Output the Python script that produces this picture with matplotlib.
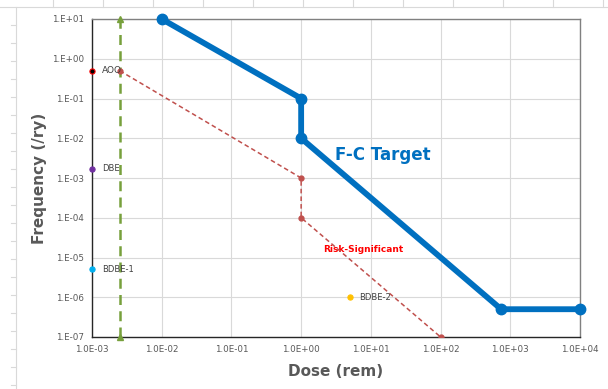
import matplotlib.pyplot as plt
from matplotlib.lines import Line2D
from matplotlib.ticker import FixedLocator, NullLocator

# F-C target curve
fc_dose = [1e-2, 1.0, 1.0, 740, 1e4]
fc_freq = [10, 0.1, 0.01, 5e-7, 5e-7]

# risk-significant curve
rs_dose = [2.5e-3, 1.0, 1.0, 100]
rs_freq = [0.5, 1e-3, 1e-4, 1e-7]

# vertical marker line
vline_dose = [2.5e-3, 2.5e-3]
vline_freq = [1e-7, 10]

# event categories
ev_names = ["AOO", "DBE", "BDBE-1", "BDBE-2"]
ev_dose = [1e-3, 1e-3, 1e-3, 5.0]
ev_freq = [0.5, 1.7e-3, 5e-6, 1e-6]
ev_colors = ["#000000", "#7030A0", "#00B0F0", "#FFC000"]
ev_edges = ["#FF0000", "#7030A0", "#00B0F0", "#FFC000"]

x_ticks = [1e-3, 1e-2, 1e-1, 1e0, 1e1, 1e2, 1e3, 1e4]
x_labels = ["1.0E-03", "1.0E-02", "1.0E-01", "1.0E+00", "1.0E+01", "1.0E+02", "1.0E+03", "1.0E+04"]
y_ticks = [1e-7, 1e-6, 1e-5, 1e-4, 1e-3, 1e-2, 1e-1, 1e0, 1e1]
y_labels = ["1.E-07", "1.E-06", "1.E-05", "1.E-04", "1.E-03", "1.E-02", "1.E-01", "1.E+00", "1.E+01"]

grey = "#595959"

fig = plt.figure(figsize=(6.08, 3.89), dpi=100)

# spreadsheet cells behind the chart
W, H = 608, 389
fig.add_artist(Line2D([0, 1], [1 - 7 / H, 1 - 7 / H], color="#D9D9D9", lw=0.8))
fig.add_artist(Line2D([16 / W, 16 / W], [0, 1 - 7 / H], color="#D9D9D9", lw=0.8))
for px in range(53, 608, 50):
    fig.add_artist(Line2D([px / W, px / W], [1 - 7 / H, 1], color="#D9D9D9", lw=0.8))
for py in range(25, 389, 18):
    fig.add_artist(Line2D([11 / W, 16 / W], [1 - py / H, 1 - py / H], color="#D9D9D9", lw=0.8))

ax = fig.add_axes([92 / W, 1 - 337 / H, (580 - 92) / W, (337 - 19) / H])
ax.set_xscale("log")
ax.set_yscale("log")
ax.set_xlim(1e-3, 1e4)
ax.set_ylim(1e-7, 1e1)

ax.xaxis.set_major_locator(FixedLocator(x_ticks))
ax.yaxis.set_major_locator(FixedLocator(y_ticks))
ax.xaxis.set_minor_locator(NullLocator())
ax.yaxis.set_minor_locator(NullLocator())
ax.set_xticklabels(x_labels)
ax.set_yticklabels(y_labels)
ax.tick_params(length=0, labelsize=6.3, colors=grey, pad=6)
ax.grid(True, color="#D9D9D9", lw=0.8)
ax.set_axisbelow(True)

for side in ["left", "bottom"]:
    ax.spines[side].set_color("#262626")
    ax.spines[side].set_linewidth(1.0)
for side in ["top", "right"]:
    ax.spines[side].set_color("#808080")
    ax.spines[side].set_linewidth(1.0)

# dashed green vertical line with triangles
ax.plot(vline_dose, vline_freq, color="#77A03C", lw=1.8, ls=(0, (4, 2.5)),
        marker="^", ms=5, clip_on=False, zorder=3)

# risk-significant line
ax.plot(rs_dose, rs_freq, color="#C0504D", lw=1.1, ls=(0, (3, 2)),
        marker="o", ms=3.5, zorder=4)

# F-C target
ax.plot(fc_dose, fc_freq, color="#0070C0", lw=4.2, marker="o", ms=7.5,
        solid_joinstyle="round", clip_on=False, zorder=5)

for name, xd, yf, c, e in zip(ev_names, ev_dose, ev_freq, ev_colors, ev_edges):
    ax.scatter([xd], [yf], s=14, color=c, edgecolor=e, lw=0.8, zorder=6, clip_on=False)
    ax.annotate(name, (xd, yf), xytext=(7, 0), textcoords="offset points",
                va="center", ha="left", fontsize=6 if name != "AOO" else 6.5,
                color="#404040", zorder=6)

ax.text(15, 3.8e-3, "F-C Target", color="#0070C0", fontsize=12, fontweight="bold",
        ha="center", va="center")
ax.text(7.8, 1.6e-5, "Risk-Significant", color="#FF0000", fontsize=6.5,
        fontweight="bold", ha="center", va="center")

fig.text(40 / W, 1 - 178 / H, "Frequency (/ry)", rotation=90, fontsize=11,
         fontweight="bold", color=grey, ha="center", va="center")
fig.text(336 / W, 1 - 372 / H, "Dose (rem)", fontsize=11, fontweight="bold",
         color=grey, ha="center", va="center")

fig.savefig("out.png", dpi=100)
